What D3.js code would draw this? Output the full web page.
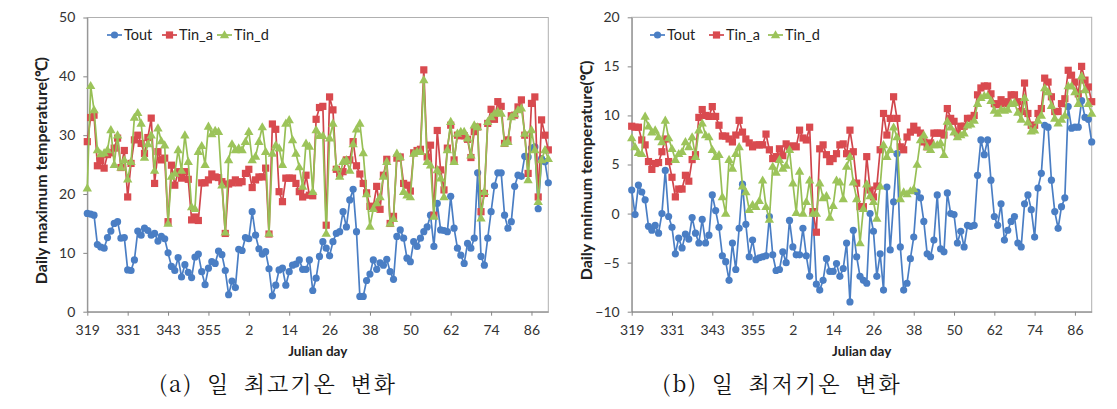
<!DOCTYPE html>
<html><head><meta charset="utf-8">
<script src="https://cdn.jsdelivr.net/npm/d3@7"></script>
<style>
body{margin:0;background:#fff;}
svg{display:block;}
</style></head>
<body>
<svg id="c" width="1117" height="409"></svg>
<script>
// ---------- DATA ----------
const days = d3.range(319, 366).concat(d3.range(1, 92));
const xTickDays = [319, 331, 343, 355, 2, 14, 26, 38, 50, 62, 74, 86];
const seriesNames = ["Tout", "Tin_a", "Tin_d"];

// (a) daily maximum temperature
const maxTout = [16.7,16.6,16.4,11.4,11.0,10.8,12.6,13.7,15.0,15.3,12.5,12.6,7.1,7.0,8.8,13.7,13.0,14.2,13.8,13.0,
13.3,12.0,12.8,12.4,10.0,7.7,7.0,9.2,5.9,8.0,6.7,5.8,9.3,9.8,6.8,4.6,7.4,8.5,8.2,10.3,
9.7,7.0,2.9,5.2,4.1,10.6,10.4,12.6,12.4,17.0,13.0,10.7,9.8,10.2,7.3,2.7,4.5,7.1,7.4,4.5,
6.8,7.9,8.1,8.8,7.2,7.2,8.8,3.6,5.7,9.4,11.9,10.8,9.5,11.9,13.3,13.6,17.0,14.4,19.0,20.8,
13.6,2.6,2.6,5.3,6.4,8.8,7.2,8.3,7.9,8.9,6.8,5.5,12.8,13.9,12.5,9.1,8.5,11.9,11.1,12.5,
13.6,14.4,16.4,11.1,18.4,13.9,13.8,13.6,19.6,14.2,10.8,9.6,8.2,11.6,10.8,12.5,23.6,9.4,7.9,12.5,
17.0,21.4,23.6,23.6,16.4,14.2,15.3,21.3,23.2,23.0,26.4,26.3,27.8,28.0,17.5,26.0,25.5,21.9];
const maxTinA = [28.9,33.0,33.4,24.8,25.7,24.4,26.7,27.0,27.8,29.5,24.5,27.4,19.5,25.2,29.2,30.0,28.6,26.9,29.6,32.9,
21.8,27.2,25.8,26.1,15.3,24.9,21.5,23.8,22.7,23.8,22.5,15.6,16.1,15.5,21.9,21.9,22.4,23.4,22.9,22.8,
22.1,13.3,21.7,21.9,22.4,21.9,22.1,23.5,24.2,21.1,22.4,22.9,22.9,24.4,13.2,31.9,31.0,20.4,18.7,22.7,
22.7,22.7,21.8,20.4,19.5,23.2,19.8,19.7,32.7,34.7,34.9,14.7,36.5,34.3,24.2,23.5,23.8,25.8,25.8,28.9,
24.8,23.4,21.8,20.2,17.9,17.9,21.3,17.4,23.2,25.9,15.0,16.2,26.1,26.3,21.8,21.5,20.5,27.0,27.4,27.6,
41.1,26.3,28.3,16.4,30.8,24.1,20.7,27.8,31.7,25.8,30.0,29.9,29.9,29.3,26.2,30.6,31.4,17.0,20.1,32.0,
34.4,32.7,35.7,34.9,28.6,29.2,33.3,33.4,34.8,36.0,30.0,23.5,35.4,36.5,19.5,32.6,30.0,27.5];
const maxTinD = [21.0,38.4,34.3,27.5,26.8,27.0,27.5,30.9,25.0,30.0,24.5,25.8,22.5,25.5,33.0,33.8,32.0,26.2,28.5,30.0,
24.0,31.2,29.0,28.3,15.0,23.0,23.5,27.5,24.0,30.0,25.5,17.8,17.5,27.2,28.2,25.0,31.5,30.2,30.8,30.6,
21.5,13.5,25.8,28.5,27.5,27.8,27.5,28.9,30.6,25.8,26.4,28.9,31.4,27.2,13.3,26.9,28.3,27.8,25.0,32.0,
32.6,29.2,26.9,24.6,21.3,28.6,28.1,20.4,30.9,29.9,29.9,13.3,29.5,32.0,24.5,23.0,25.5,25.8,24.0,28.5,
31.0,32.0,27.0,20.0,14.5,17.5,18.5,19.5,23.0,25.5,15.0,15.8,26.9,26.3,20.4,19.8,19.5,26.9,27.2,27.2,
39.4,25.5,24.9,16.2,24.1,22.7,19.5,27.5,32.3,25.5,30.3,30.6,30.6,29.5,26.6,31.7,31.4,15.9,20.4,32.3,
33.1,33.7,34.0,33.7,28.6,28.9,33.1,33.6,34.3,34.6,30.3,22.4,30.9,27.5,18.7,25.8,27.5,26.0];

// (b) daily minimum temperature
const minTout = [2.4,-0.1,2.9,2.2,1.4,-1.3,-1.7,-1.2,-2.0,0.0,4.4,-0.3,-1.4,-4.1,-2.5,-3.5,-2.1,-2.6,-0.4,-2.0,
-3.0,-0.6,-3.0,-2.2,1.9,0.3,-1.4,-4.3,-4.9,-6.8,-3.0,-5.7,-1.5,3.0,-1.1,-4.4,-2.7,-4.7,-4.5,-4.4,
-4.3,-0.3,-4.2,-5.8,-5.7,-3.9,-5.0,-0.7,-3.4,-4.2,-4.2,-1.5,-4.3,-6.4,0.0,-7.2,-7.8,-6.8,-4.6,-5.9,
-5.9,-5.1,-6.4,-5.6,-3.0,-9.0,-1.7,-4.4,-6.4,-6.8,-7.1,0.0,-1.8,-6.4,-4.1,-7.8,2.7,-3.7,1.2,6.1,
-3.4,-7.8,-7.1,-4.6,-2.4,2.2,1.6,-0.8,-4.1,-4.4,-2.7,1.9,-3.6,-3.9,2.1,0.0,-0.1,-3.0,-1.8,-3.4,
-1.2,-1.3,-1.2,3.9,7.5,6.0,7.5,3.4,-0.3,-1.2,1.0,-2.7,-1.7,-0.8,-0.3,-3.0,-3.4,1.0,1.9,0.4,
-2.4,2.6,4.1,9.0,8.8,3.4,0.2,-1.5,0.7,1.6,10.9,8.7,8.8,8.8,11.5,9.8,9.6,7.3];
const minTinA = [8.9,8.8,8.8,7.5,7.0,5.3,4.5,5.1,5.2,6.3,7.6,5.3,3.7,1.7,2.5,2.5,3.9,3.3,5.5,6.0,
9.8,10.6,10.0,9.9,10.9,9.9,9.0,7.9,7.9,7.6,7.3,8.0,9.5,8.3,7.6,7.2,6.8,7.0,7.0,7.0,
8.1,6.5,5.6,5.8,6.6,5.9,7.1,6.8,6.9,6.8,8.5,7.7,7.5,8.8,0.2,-1.9,6.6,7.0,6.0,5.3,
5.6,6.1,7.0,7.1,6.1,8.5,6.3,3.1,0.7,0.7,5.8,2.4,1.7,2.8,6.5,10.2,8.0,9.7,11.9,9.7,
6.8,6.5,7.8,8.3,8.9,8.5,8.2,7.3,6.8,7.2,8.2,8.2,8.2,8.0,10.7,9.7,9.4,8.2,8.9,8.9,
9.7,9.7,10.0,12.1,12.8,13.0,13.0,12.2,11.2,11.1,11.6,11.2,11.4,12.1,12.1,11.4,10.4,13.3,10.2,9.0,
9.0,10.2,10.7,13.8,13.4,11.9,10.4,10.4,11.2,11.7,14.6,14.1,13.4,12.2,15.0,13.6,12.9,11.4];
const minTinD = [7.7,6.8,6.2,6.1,9.9,8.9,8.3,8.5,7.8,7.3,9.5,7.7,6.6,5.5,6.1,6.3,7.3,6.8,7.8,5.8,
8.5,9.2,8.0,7.8,6.5,5.8,6.0,1.7,0.0,5.5,4.6,6.1,6.8,2.8,2.2,0.4,0.9,0.7,1.3,3.4,
0.7,-0.6,4.8,4.2,5.5,4.6,4.9,6.5,3.1,0.1,4.3,0.0,1.2,3.4,0.0,0.0,3.1,1.6,1.8,-0.4,
0.8,3.4,3.2,1.5,4.8,5.8,3.2,1.5,-3.0,0.5,3.0,1.8,1.2,-0.5,2.8,7.0,5.8,6.5,8.8,7.8,
1.5,2.2,2.0,2.3,2.5,5.0,7.5,8.0,6.8,6.5,7.0,7.0,7.2,6.0,9.4,8.8,8.3,7.8,8.0,8.2,
9.0,9.1,9.5,11.2,11.8,12.0,12.0,11.5,10.5,10.2,10.6,10.5,10.6,11.2,11.3,10.3,9.6,11.8,9.3,8.4,
8.5,9.5,10.0,12.8,12.4,11.0,9.7,9.2,9.6,10.0,13.0,13.0,12.4,11.2,14.0,12.6,11.2,10.2];

const panels = [
  {x0: 87.3, x1: 548.3, yTop: 17.5, yBot: 311.7, domain: [0, 50], ticks: [0,10,20,30,40,50],
   yTitle: "Daily  maximum temperature(\u2103)", caption: "(a) 일 최고기온 변화", capX: 278,
   data: [maxTout, maxTinA, maxTinD], legendX: [107, 162, 217]},
  {x0: 631.7, x1: 1091.7, yTop: 17.3, yBot: 311.7, domain: [-10, 20], ticks: [-10,-5,0,5,10,15,20],
   yTitle: "Daily  mnimum temperature(\u2103)", caption: "(b) 일 최저기온 변화", capX: 782,
   data: [minTout, minTinA, minTinD], legendX: [650, 709, 768]}
];

// ---------- STYLE ----------
const colors = ["#4a7ec4", "#d94a4f", "#9cc45a"];
const lineColors = ["#4a7ec4", "#d0454b", "#97bf55"];
const font = "Lato, 'Open Sans', 'Liberation Sans', sans-serif";
const svg = d3.select("#c");

function marker(g, type, cx, cy, color) {
  if (type === 0) {
    g.append("circle").attr("cx", cx).attr("cy", cy).attr("r", 3.6).attr("fill", color);
  } else if (type === 1) {
    g.append("rect").attr("x", cx - 3.6).attr("y", cy - 3.6).attr("width", 7.2).attr("height", 7.2).attr("fill", color);
  } else {
    g.append("path").attr("d", d3.symbol(d3.symbolTriangle, 38)()).attr("transform", `translate(${cx},${cy + 0.6})`).attr("fill", color);
  }
}

panels.forEach(p => {
  const g = svg.append("g");
  const x = d3.scalePoint().domain(days).range([p.x0, p.x1]);
  const y = d3.scaleLinear().domain(p.domain).range([p.yBot, p.yTop]);

  // plot frame
  g.append("rect").attr("x", p.x0).attr("y", p.yTop).attr("width", p.x1 - p.x0).attr("height", p.yBot - p.yTop)
    .attr("fill", "none").attr("stroke", "#b0b0b0").attr("stroke-width", 1);

  // axes
  const xAx = g.append("g").attr("transform", `translate(0,${p.yBot})`)
    .call(d3.axisBottom(x).tickValues(xTickDays).tickSize(4).tickSizeOuter(0).tickPadding(9));
  const yAx = g.append("g").attr("transform", `translate(${p.x0},0)`)
    .call(d3.axisLeft(y).tickValues(p.ticks).tickSize(4).tickSizeOuter(0).tickPadding(8));
  [xAx, yAx].forEach(a => {
    a.select(".domain").attr("stroke", "#868686");
    a.selectAll(".tick line").attr("stroke", "#868686");
    a.selectAll("text").attr("font-family", font).attr("font-size", 14).attr("fill", "#333");
  });

  // series
  p.data.forEach((vals, si) => {
    const pts = vals.map((v, i) => [x(days[i]), y(v)]);
    g.append("path").attr("d", d3.line()(pts)).attr("fill", "none")
      .attr("stroke", lineColors[si]).attr("stroke-width", 1.7).attr("stroke-linejoin", "round");
    const mg = g.append("g");
    pts.forEach(pt => marker(mg, si, pt[0], pt[1], colors[si]));
  });

  // legend
  const ly = 35;
  seriesNames.forEach((n, si) => {
    const lx = p.legendX[si];
    g.append("line").attr("x1", lx).attr("x2", lx + 15).attr("y1", ly).attr("y2", ly)
      .attr("stroke", lineColors[si]).attr("stroke-width", 1.7);
    marker(g, si, lx + 7.5, ly, colors[si]);
    g.append("text").attr("x", lx + 17).attr("y", ly + 5).text(n)
      .attr("font-family", font).attr("font-size", 14.5).attr("fill", "#222");
  });

  // y title
  const ymid = (p.yTop + p.yBot) / 2 + 6;
  g.append("text").attr("transform", `translate(${p.x0 - 40},${ymid}) rotate(-90)`)
    .attr("text-anchor", "middle").text(p.yTitle)
    .attr("font-family", font).attr("font-size", 16).attr("font-weight", "bold").attr("fill", "#222");

  // x title
  g.append("text").attr("x", (p.x0 + p.x1) / 2).attr("y", 356).attr("text-anchor", "middle")
    .text("Julian day").attr("font-family", font).attr("font-size", 13.5).attr("font-weight", "bold").attr("fill", "#222");

  // caption
  svg.append("text").attr("x", p.capX).attr("y", 392).attr("text-anchor", "middle").text(p.caption)
    .attr("font-family", "'Noto Serif CJK KR','Liberation Serif','Noto Sans CJK KR',serif")
    .attr("font-size", 22).attr("letter-spacing", 2).attr("word-spacing", 6).attr("fill", "#111");
});
</script>
</body></html>
